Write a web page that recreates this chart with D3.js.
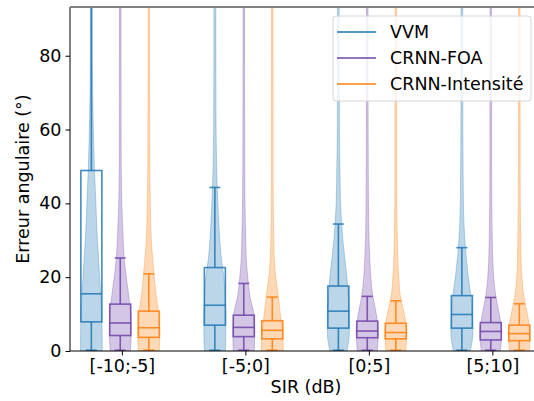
<!DOCTYPE html>
<html>
<head>
<meta charset="utf-8">
<script src="https://cdn.jsdelivr.net/npm/d3@7"></script>
<style>
  html, body { margin: 0; padding: 0; background: #fff; }
  svg { display: block; font-family: "DejaVu Sans", sans-serif; }
</style>
</head>
<body>
<svg id="chart" width="534" height="401"></svg>
<script>
// SIR bins on the x axis
const categories = ["[-10;-5]", "[-5;0]", "[0;5]", "[5;10]"];
const seriesNames = ["VVM", "CRNN-FOA", "CRNN-Intensité"];
const yTicks = [0, 20, 40, 60, 80];

// Box statistics per method (degrees), one value per SIR bin
const vvmLow = [0.2, 0.2, 0.2, 0.2];
const vvmQ1 = [7.9, 7.0, 6.2, 6.2];
const vvmMedian = [15.5, 12.4, 10.8, 9.9];
const vvmQ3 = [48.9, 22.6, 17.6, 15.0];
const vvmHigh = [110, 44.3, 34.4, 28.0];

const foaLow = [0.2, 0.2, 0.2, 0.2];
const foaQ1 = [4.2, 3.9, 3.6, 3.0];
const foaMedian = [7.6, 6.4, 5.4, 5.3];
const foaQ3 = [12.7, 9.7, 8.1, 7.7];
const foaHigh = [25.2, 18.3, 14.8, 14.5];

const intLow = [0.2, 0.2, 0.2, 0.2];
const intQ1 = [3.7, 3.3, 3.3, 2.8];
const intMedian = [6.3, 5.6, 5.0, 4.7];
const intQ3 = [10.8, 8.2, 7.5, 7.0];
const intHigh = [20.9, 14.6, 13.6, 12.8];

// Violin density profiles: relative density sampled at these error values
const densityGrid = [0, 5, 10, 15, 20, 25, 30, 40, 50, 60, 80, 180];
const vvmDensity = [
  [0.99, 0.98, 0.94, 0.86, 0.76, 0.66, 0.55, 0.41, 0.27, 0.18, 0.09, 0.07],
  [0.95, 1.00, 1.00, 0.93, 0.82, 0.59, 0.45, 0.27, 0.16, 0.11, 0.09, 0.07],
  [0.77, 1.00, 1.00, 0.91, 0.77, 0.59, 0.41, 0.20, 0.14, 0.09, 0.08, 0.07],
  [0.77, 1.00, 0.95, 0.82, 0.59, 0.41, 0.27, 0.14, 0.11, 0.09, 0.08, 0.07]
];
const foaDensity = [
  [0.91, 1.00, 0.95, 0.77, 0.55, 0.36, 0.27, 0.14, 0.09, 0.08, 0.07, 0.07],
  [0.95, 1.00, 0.91, 0.55, 0.36, 0.23, 0.18, 0.11, 0.09, 0.08, 0.07, 0.07],
  [0.91, 1.00, 0.82, 0.50, 0.32, 0.23, 0.16, 0.11, 0.09, 0.08, 0.07, 0.07],
  [0.86, 1.00, 0.77, 0.45, 0.27, 0.18, 0.14, 0.09, 0.08, 0.08, 0.07, 0.07]
];
const intDensity = [
  [0.95, 1.00, 0.91, 0.68, 0.50, 0.36, 0.23, 0.14, 0.09, 0.08, 0.07, 0.07],
  [1.00, 0.95, 0.73, 0.55, 0.32, 0.18, 0.14, 0.09, 0.08, 0.08, 0.07, 0.07],
  [0.91, 1.00, 0.77, 0.41, 0.27, 0.18, 0.14, 0.09, 0.08, 0.08, 0.07, 0.07],
  [0.91, 1.00, 0.73, 0.41, 0.23, 0.16, 0.14, 0.09, 0.08, 0.08, 0.07, 0.07]
];

const colors = ["#1f77b4", "#7043a8", "#ff7f0e"];
const offsets = [-0.247, -0.013, 0.218];   // placement of each method inside a bin

const series = [
  { low: vvmLow, q1: vvmQ1, med: vvmMedian, q3: vvmQ3, high: vvmHigh, dens: vvmDensity },
  { low: foaLow, q1: foaQ1, med: foaMedian, q3: foaQ3, high: foaHigh, dens: foaDensity },
  { low: intLow, q1: intQ1, med: intMedian, q3: intQ3, high: intHigh, dens: intDensity }
];

const svg = d3.select("#chart");
const plotLeft = 70, plotTop = 7, plotBottom = 351, plotRight = 544;
const fontSize = 17.5;

const x = d3.scaleLinear().domain([0.58, 0.58 + (plotRight - plotLeft) / 123.5]).range([plotLeft, plotRight]);
const y = d3.scaleLinear().domain([0, 93.2]).range([plotBottom, plotTop]);
const halfW = d3.scaleLinear().domain([0, 1]).range([0, 11]);
const boxHalf = 10.5, capHalf = 5.5;

svg.append("defs").append("clipPath").attr("id", "plotClip")
  .append("rect").attr("x", plotLeft).attr("y", plotTop)
  .attr("width", plotRight - plotLeft).attr("height", plotBottom - plotTop);

const plot = svg.append("g").attr("clip-path", "url(#plotClip)");

// violins
series.forEach((s, si) => {
  categories.forEach((c, ci) => {
    const cx = x(ci + 1 + offsets[si]);
    const pts = densityGrid.map((v, k) => ({ v, d: s.dens[ci][k] }));
    const area = d3.area()
      .curve(d3.curveMonotoneY)
      .y(p => y(p.v))
      .x0(p => cx - halfW(p.d))
      .x1(p => cx + halfW(p.d));
    plot.append("path")
      .attr("d", area(pts))
      .attr("fill", colors[si]).attr("fill-opacity", 0.3)
      .attr("stroke", colors[si]).attr("stroke-opacity", 0.3).attr("stroke-width", 1);
  });
});

// box plots
series.forEach((s, si) => {
  categories.forEach((c, ci) => {
    const cx = x(ci + 1 + offsets[si]);
    const g = plot.append("g")
      .attr("stroke", colors[si]).attr("stroke-width", 1.6).attr("fill", "none")
      .attr("stroke-opacity", 0.85);
    g.append("line").attr("x1", cx).attr("x2", cx).attr("y1", y(s.q3[ci])).attr("y2", y(s.high[ci]));
    g.append("line").attr("x1", cx).attr("x2", cx).attr("y1", y(s.q1[ci])).attr("y2", y(s.low[ci]));
    g.append("line").attr("x1", cx - capHalf).attr("x2", cx + capHalf).attr("y1", y(s.high[ci])).attr("y2", y(s.high[ci]));
    g.append("line").attr("x1", cx - capHalf).attr("x2", cx + capHalf).attr("y1", y(s.low[ci])).attr("y2", y(s.low[ci]));
    g.append("rect").attr("x", cx - boxHalf).attr("width", 2 * boxHalf)
      .attr("y", y(s.q3[ci])).attr("height", y(s.q1[ci]) - y(s.q3[ci]));
    g.append("line").attr("x1", cx - boxHalf).attr("x2", cx + boxHalf).attr("y1", y(s.med[ci])).attr("y2", y(s.med[ci]));
  });
});

// axes
const yAxis = d3.axisLeft(y).tickValues(yTicks).tickSize(4.5).tickPadding(4);
const gy = svg.append("g").attr("transform", `translate(${plotLeft},0)`).call(yAxis);
const xAxis = d3.axisBottom(x).tickValues([1, 2, 3, 4]).tickFormat(d => categories[d - 1]).tickSize(4.5).tickPadding(4);
const gx = svg.append("g").attr("transform", `translate(0,${plotBottom})`).call(xAxis);
[gx, gy].forEach(g => {
  g.select(".domain").remove();
  g.selectAll("text").attr("font-size", fontSize).attr("fill", "#000").attr("font-family", "DejaVu Sans, sans-serif");
  g.selectAll("line").attr("stroke", "#000").attr("stroke-width", 1);
});
svg.append("line").attr("x1", plotLeft).attr("x2", plotLeft).attr("y1", plotTop).attr("y2", plotBottom).attr("stroke", "#000").attr("stroke-width", 1);
svg.append("line").attr("x1", plotLeft).attr("x2", plotRight).attr("y1", plotBottom).attr("y2", plotBottom).attr("stroke", "#000").attr("stroke-width", 1);
svg.append("line").attr("x1", plotLeft).attr("x2", plotRight).attr("y1", plotTop).attr("y2", plotTop).attr("stroke", "#808080").attr("stroke-width", 2);

svg.append("text").attr("x", 306).attr("y", 393)
  .attr("text-anchor", "middle").attr("font-size", fontSize).text("SIR (dB)");
svg.append("text").attr("transform", `translate(29,${(plotTop + plotBottom) / 2}) rotate(-90)`)
  .attr("text-anchor", "middle").attr("font-size", fontSize).text("Erreur angulaire (°)");

// legend
const lg = svg.append("g");
lg.append("rect").attr("x", 333).attr("y", 16).attr("width", 198).attr("height", 85)
  .attr("rx", 3).attr("fill", "#fff").attr("fill-opacity", 0.8).attr("stroke", "#d6d6d6").attr("stroke-width", 1);
seriesNames.forEach((name, i) => {
  const ly = 32 + i * 26;
  lg.append("line").attr("x1", 337).attr("x2", 376).attr("y1", ly).attr("y2", ly)
    .attr("stroke", colors[i]).attr("stroke-width", 1.6);
  lg.append("text").attr("x", 390).attr("y", ly + 6).attr("font-size", fontSize).text(name);
});
</script>
</body>
</html>
